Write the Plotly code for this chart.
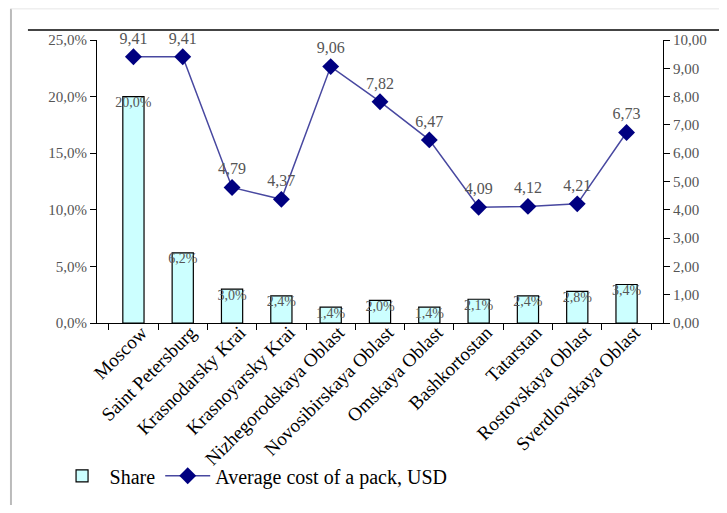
import plotly.graph_objects as go

regions = ["Moscow", "Saint Petersburg", "Krasnodarsky Krai", "Krasnoyarsky Krai",
           "Nizhegorodskaya Oblast", "Novosibirskaya Oblast", "Omskaya Oblast",
           "Bashkortostan", "Tatarstan", "Rostovskaya Oblast", "Sverdlovskaya Oblast"]
share = [0.200, 0.062, 0.030, 0.024, 0.014, 0.020, 0.014, 0.021, 0.024, 0.028, 0.034]
avg_cost = [9.41, 9.41, 4.79, 4.37, 9.06, 7.82, 6.47, 4.09, 4.12, 4.21, 6.73]

serif = "Liberation Serif, Times New Roman, serif"
gray = "#555555"

fig = go.Figure()
fig.add_trace(go.Bar(
    x=regions, y=share, name="Share",
    marker=dict(color="#CCFFFF", line=dict(color="black", width=1.2)),
    yaxis="y", hoverinfo="skip",
))
fig.add_trace(go.Scatter(
    x=regions, y=share, mode="text",
    text=[f"{v*100:.1f}%".replace(".", ",") for v in share],
    textposition="bottom center", textfont=dict(family=serif, size=14, color=gray),
    showlegend=False, yaxis="y", hoverinfo="skip", cliponaxis=False,
))
fig.add_trace(go.Scatter(
    x=regions, y=avg_cost, name="Average cost of a pack, USD",
    mode="lines+markers+text",
    line=dict(color="#4848A0", width=1.5),
    marker=dict(symbol="diamond", size=13, color="#000080"),
    text=[f"{v:.2f}".replace(".", ",") for v in avg_cost],
    textposition="top center", textfont=dict(family=serif, size=16, color=gray),
    yaxis="y2", cliponaxis=False,
))

fig.update_layout(
    width=711, height=497,
    margin=dict(l=89, r=56, t=32, b=182, autoexpand=False),
    paper_bgcolor="white", plot_bgcolor="white",
    separators=", ",
    font=dict(family=serif, size=12, color="black"),
    bargap=0.57,
    showlegend=True,
    legend=dict(orientation="h", x=-0.075, xanchor="left", y=-0.54, yanchor="middle",
                font=dict(family=serif, size=20, color="black"),
                bgcolor="rgba(0,0,0,0)", itemwidth=45, tracegroupgap=0),
    xaxis=dict(
        type="category", tickangle=-45, tickson="boundaries",
        ticks="outside", ticklen=6, tickcolor="black",
        showline=True, linecolor="black", linewidth=1.2,
        tickfont=dict(family=serif, size=19, color="black"),
        ticklabelshift=8, ticklabelstandoff=-10,
        showgrid=False, fixedrange=True, automargin=False,
    ),
    yaxis=dict(
        range=[0, 0.25], dtick=0.05, tickformat=".1%",
        ticks="outside", ticklen=6, tickcolor="black",
        showline=True, linecolor="black", linewidth=1.2,
        showgrid=False, zeroline=False, automargin=False,
        tickfont=dict(family=serif, size=15, color=gray),
    ),
    yaxis2=dict(
        range=[0, 10], dtick=1, tickformat=".2f", overlaying="y", side="right",
        ticks="outside", ticklen=6, tickcolor="black",
        showline=True, linecolor="black", linewidth=1.2,
        showgrid=False, zeroline=False, automargin=False,
        tickfont=dict(family=serif, size=15, color=gray),
    ),
    shapes=[
        dict(type="line", xref="paper", yref="paper", x0=-0.122, x1=1.12, y0=1.035, y1=1.035,
             line=dict(color="#444444", width=2)),
        dict(type="line", xref="paper", yref="paper", x0=-0.152, x1=-0.152, y0=1.11, y1=-0.68,
             line=dict(color="#bbbbbb", width=2)),
        dict(type="line", xref="paper", yref="paper", x0=-0.152, x1=1.12, y0=1.11, y1=1.11,
             line=dict(color="#e6e6e6", width=1)),
    ],
)

fig.write_html("out.html")
